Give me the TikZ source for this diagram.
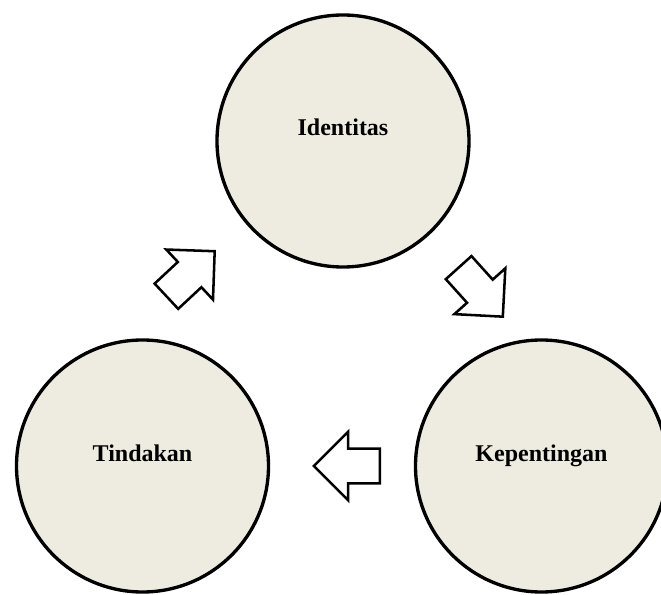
\documentclass[tikz,border=0pt]{standalone}
\usepackage{fontspec}
\setmainfont{Liberation Serif}
\usepackage{tikz}
\usetikzlibrary{shapes}
\usetikzlibrary{positioning}

\definecolor{circfill}{HTML}{EEECE1}

\tikzset{
    topic/.style={circle, draw, line width=2.5pt, fill=circfill, minimum size=189pt, inner sep=0pt},
    topiclabel/.style={font=\fontsize{18pt}{22pt}\selectfont\bfseries, anchor=base, inner sep=0pt},
    flow/.style={single arrow, draw, line width=1.9pt, fill=white, inner xsep=0pt, inner ysep=12pt, minimum height=49.5pt, minimum width=0pt, single arrow head extend=12.75pt, single arrow tip angle=90, anchor=tip}
}

\begin{document}
\begin{tikzpicture}[x=0.75pt, y=-0.75pt]
        \useasboundingbox (0,0) rectangle (661,595);
        \node (ident) [topic] at (343,141) {};
        \node (tind) [topic] at (142.5,466) {};
        \node (kep) [topic] at (541.5,466) {};
        \node (identtext) [topiclabel] at ([yshift=3.75pt]ident.center) {Identitas};
        \node (tindtext) [topiclabel] at ([yshift=3.4pt]tind.center) {Tindakan};
        \node (keptext) [topiclabel] at ([yshift=3.4pt]kep.center) {Kepentingan};
        \node (toident) [flow, rotate=43] at (216,250) {};
        \node (tokep) [flow, rotate=-48] at (504,318) {};
        \node (totind) [flow, rotate=180] at (312,466) {};
    \end{tikzpicture}
\end{document}
